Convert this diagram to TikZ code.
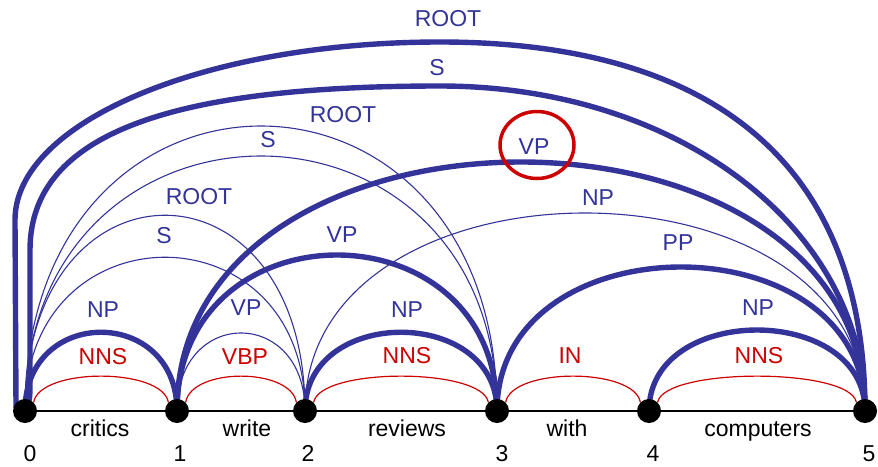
\documentclass[tikz,border=0pt]{standalone}
\usepackage{fontspec}
\setmainfont{Liberation Sans}
\usetikzlibrary{calc}
\definecolor{arcblue}{RGB}{51,51,153}
\definecolor{arcred}{RGB}{204,0,0}
\pgfdeclarelayer{bg}
\pgfsetlayers{bg,main}
\begin{document}
\begin{tikzpicture}[x=1pt, y=-1pt,
  font=\fontsize{23}{27}\selectfont,
  thickarc/.style={draw=arcblue, line width=5.4pt},
  thinarc/.style={draw=arcblue, line width=1.1pt},
  posarc/.style={draw=arcred, line width=1.2pt},
  dot/.style={circle, fill=black, minimum size=24pt, inner sep=0pt},
  lab/.style={text=arcblue, inner sep=0pt},
  poslab/.style={text=arcred, inner sep=0pt},
  word/.style={anchor=base, inner sep=0pt, text=black}]
\useasboundingbox (0,0) rectangle (878,466);

% word boundary nodes
\node[dot] (n0) at (25,411) {};
\node[dot] (n1) at (177,411) {};
\node[dot] (n2) at (305,411) {};
\node[dot] (n3) at (497,411) {};
\node[dot] (n4) at (649,411) {};
\node[dot] (n5) at (865,411) {};

% indices
\node[word] (d0) at (30,461) {0};
\node[word] (d1) at (180,461) {1};
\node[word] (d2) at (308,461) {2};
\node[word] (d3) at (502,461) {3};
\node[word] (d4) at (653,461) {4};
\node[word] (d5) at (869,461) {5};

% words
\node[word] (w1) at (100,436) {critics};
\node[word] (w2) at (247,436) {write};
\node[word] (w3) at (407,436) {reviews};
\node[word] (w4) at (567,436) {with};
\node[word] (w5) at (758,436) {computers};

\begin{pgfonlayer}{bg}
% baseline
\draw[line width=2pt] (n0.center) -- (n5.center);

% POS arcs (red)
\draw[posarc] (n0.45) .. controls +(6,-35) and +(-6,-35) .. (n1.135);
\draw[posarc] (n1.45) .. controls +(6,-35) and +(-6,-35) .. (n2.135);
\draw[posarc] (n2.45) .. controls +(6,-35) and +(-6,-35) .. (n3.135);
\draw[posarc] (n3.45) .. controls +(6,-35) and +(-6,-35) .. (n4.135);
\draw[posarc] (n4.45) .. controls +(6,-35) and +(-6,-35) .. (n5.135);

% thin blue arcs
\draw[thinarc] (n1.center) .. controls +(0,-104) and +(0,-104) .. (n2.center);
\draw[thinarc] (n0.center) .. controls +(0,-205) and +(0,-205) .. (n2.center);
\draw[thinarc] (n0.center) .. controls +(0,-261) and +(0,-261) .. (n2.center);
\draw[thinarc] (n0.center) .. controls +(0,-340) and +(0,-340) .. (n3.center);
\draw[thinarc] (n0.center) .. controls +(0,-380) and +(0,-380) .. (n3.center);
\draw[thinarc] (n2.center) .. controls +(0,-264) and +(0,-264) .. (n5.center);

% thick blue arcs
\draw[thickarc] (n0.center) .. controls +(0,-105) and +(0,-105) .. (n1.center);
\draw[thickarc] (n2.center) .. controls +(0,-105) and +(0,-105) .. (n3.center);
\draw[thickarc] (n4.center) .. controls +(0,-108) and +(0,-108) .. (n5.center);
\draw[thickarc] (n1.center) .. controls +(0,-208) and +(0,-208) .. (n3.center);
\draw[thickarc] (n3.center) .. controls +(0,-192) and +(0,-192) .. (n5.center);
\draw[thickarc] (n1.center) .. controls +(0,-332) and +(0,-332) .. (n5.center);
\draw[thickarc] (n0.center) .. controls (30,400) .. (30,380) -- (30,250)
   .. controls (30,130) and (180,86) .. (440,86)
   .. controls (680,86) and (865,230) .. (n5.center);
\draw[thickarc] (n0.center) -- (16,406) -- (15,220)
   .. controls (15,122) and (205,42) .. (440,42)
   .. controls (720,42) and (865,170) .. (n5.center);
\end{pgfonlayer}

% constituent labels
\node[lab] (lroot5) at (448,19) {ROOT};
\node[lab] (ls5) at (437,68) {S};
\node[lab] (lroot3) at (343,115) {ROOT};
\node[lab] (ls3) at (268,140) {S};
\node[lab] (lroot2) at (199,197) {ROOT};
\node[lab] (ls2) at (164,236) {S};
\node[lab] (lvp13) at (342,235) {VP};
\node[lab] (lvp15) at (534,147) {VP};
\node[lab] (lnp25) at (598,198) {NP};
\node[lab] (lpp) at (678,243) {PP};
\node[lab] (lnp01) at (103,310) {NP};
\node[lab] (lvp12) at (246,308) {VP};
\node[lab] (lnp23) at (407,310) {NP};
\node[lab] (lnp45) at (758,308) {NP};

% POS labels
\node[poslab] (p1) at (103,357) {NNS};
\node[poslab] (p2) at (245,357) {VBP};
\node[poslab] (p3) at (407,356) {NNS};
\node[poslab] (p4) at (570,356) {IN};
\node[poslab] (p5) at (759,356) {NNS};

% highlight
\draw[arcred, line width=3.5pt] (lvp15) ++(3,-2) ellipse [x radius=37, y radius=33.5];
\end{tikzpicture}
\end{document}
